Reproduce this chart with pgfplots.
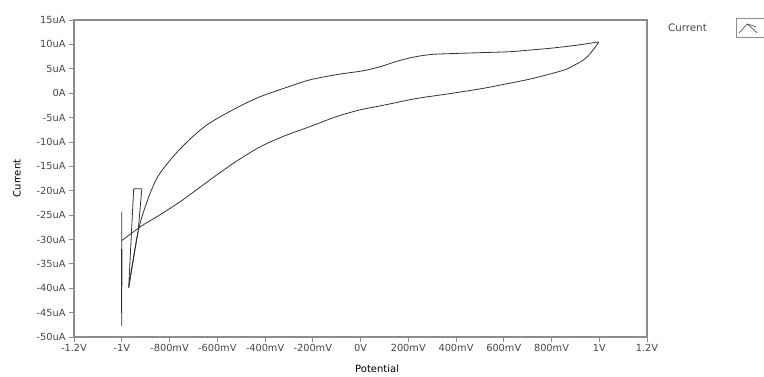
\documentclass[border=0pt]{standalone}
\usepackage{pgfplots}
\pgfplotsset{compat=1.18}
\usepackage{fontspec}
\setmainfont{DejaVu Sans}
\definecolor{axisgray}{HTML}{8C8C8C}
\definecolor{textgray}{HTML}{474747}
\definecolor{tracegray}{HTML}{333333}
\begin{document}
\begin{tikzpicture}
% page frame around the plot area
\path[use as bounding box] (-74pt,-39pt) rectangle (690pt,337pt);
\begin{axis}[
  at={(0pt,0pt)}, anchor=south west,
  scale only axis, width=573pt, height=317pt,
  xmin=-1.2, xmax=1.2, ymin=-50, ymax=15,
  xtick={-1.2,-1,-0.8,-0.6,-0.4,-0.2,0,0.2,0.4,0.6,0.8,1,1.2},
  xticklabels={-1.2V,-1V,-800mV,-600mV,-400mV,-200mV,0V,200mV,400mV,600mV,800mV,1V,1.2V},
  ytick={-50,-45,-40,-35,-30,-25,-20,-15,-10,-5,0,5,10,15},
  yticklabels={-50uA,-45uA,-40uA,-35uA,-30uA,-25uA,-20uA,-15uA,-10uA,-5uA,0A,5uA,10uA,15uA},
  tick align=outside, xtick pos=bottom, ytick pos=left,
  major tick length=5pt,
  tick style={axisgray, line width=0.8pt},
  axis line style={axisgray, line width=1.3pt},
  tick label style={font=\fontsize{9.8}{11}\selectfont, text=textgray},
  xticklabel style={yshift=1pt},
  xlabel={Potential}, ylabel={Current},
  label style={font=\fontsize{10.5}{12}\selectfont, text=textgray},
  every axis x label/.style={at={(axis description cs:0.529,-0.101)}, anchor=center},
  every axis y label/.style={at={(axis description cs:-0.0995,0.5)}, rotate=90, anchor=center},
  unbounded coords=jump,
  legend plot pos=right,
  legend style={draw=none, fill=none, at={(axis description cs:1.033,0.975)}, anchor=west,
    inner sep=0pt, font=\fontsize{10.3}{12}\selectfont, text=textgray},
  legend image code/.code={
    \path (0pt,0pt);
    \draw[axisgray, line width=1pt] (27pt,-9.5pt) rectangle (59pt,9.5pt);
    \draw[textgray, line width=0.6pt] (30pt,-5pt) -- (38pt,4pt) -- (48pt,-5pt);
    \draw[textgray, line width=0.6pt] (38pt,4pt) -- (47pt,1pt);
  },
]
% forward (anodic) sweep
\addplot[tracegray, line width=0.8pt, smooth, tension=0.5] coordinates {
  (-0.971,-39.9) (-0.931,-28.2) (-0.887,-21.3) (-0.845,-16.8) (-0.774,-12.4) (-0.700,-8.8)
  (-0.634,-6.2) (-0.530,-3.3) (-0.424,-0.8) (-0.320,1.0) (-0.214,2.7)
  (-0.100,3.8) (0.0,4.5) (0.050,5.0) (0.094,5.6) (0.164,6.7) (0.234,7.5)
  (0.300,7.95) (0.374,8.1) (0.500,8.3) (0.626,8.5) (0.700,8.8) (0.794,9.2)
  (0.900,9.8) (0.997,10.5)
};
\addlegendentry{Current}
% reverse (cathodic) sweep
\addplot[tracegray, line width=0.8pt, smooth, tension=0.5, forget plot] coordinates {
  (0.997,10.5) (0.990,9.9) (0.960,8.0) (0.934,6.8) (0.890,5.6) (0.850,4.7) (0.720,3.0)
  (0.600,1.8) (0.510,0.95) (0.374,-0.1) (0.234,-1.1) (0.094,-2.5) (0.0,-3.4)
  (-0.100,-4.8) (-0.214,-6.9) (-0.320,-8.8) (-0.424,-11.1) (-0.530,-14.3)
  (-0.634,-17.9) (-0.748,-22.0) (-0.845,-25.1) (-0.916,-27.2) (-0.999,-30.2)
};
% switching spikes at the negative vertex and the small loop
\addplot[tracegray, line width=0.8pt, forget plot] coordinates {
  (-1.0,-30.2) (-1.0,-47.7) (-1.0,-24.4) (-1.0,-45.0) (-0.999,-32.0)
  (nan,nan)
  (-0.971,-39.9) (-0.950,-19.6) (-0.916,-19.6) (-0.931,-28.2) (-0.971,-39.9)
};
\addplot[tracegray, line width=1.4pt, forget plot] coordinates {(-1.0,-32.0) (-1.0,-45.0)};
\end{axis}
\end{tikzpicture}
\end{document}
